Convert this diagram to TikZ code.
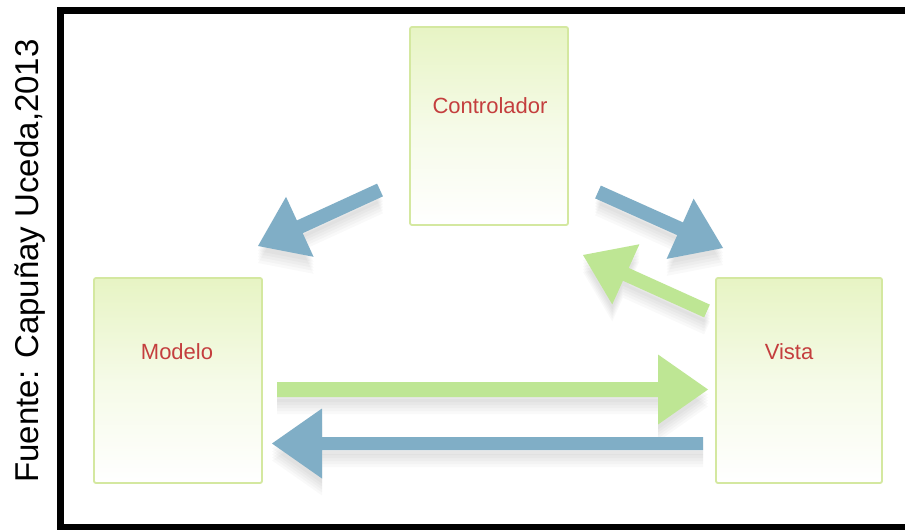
\documentclass[tikz,border=0pt]{standalone}
\usepackage{fontspec}
\setmainfont{Liberation Sans}
\usetikzlibrary{calc}

\definecolor{boxline}{RGB}{212,232,160}
\definecolor{boxtop}{RGB}{231,244,196}
\definecolor{labelred}{RGB}{196,62,62}
\definecolor{arrowblue}{RGB}{128,174,198}
\definecolor{arrowgreen}{RGB}{190,230,148}

\tikzset{
  mvcbox/.style={draw=boxline, line width=1.8pt, rounded corners=2pt,
    top color=boxtop, bottom color=white, middle color=boxtop!40!white},
  mvclabel/.style={text=labelred, font=\fontsize{22}{24}\selectfont, inner sep=0pt},
}

% block arrow outline: tail, tip, shaft half width, head half width, head length
\newcommand\arrowoutline[5]{%
    ($(#1)!#3!90:(#2)$) --
    ($($(#2)!#5!(#1)$)!#3!-90:(#1)$) --
    ($($(#2)!#5!(#1)$)!#4!-90:(#1)$) --
    (#2) --
    ($($(#2)!#5!(#1)$)!#4!90:(#1)$) --
    ($($(#2)!#5!(#1)$)!#3!90:(#1)$) --
    ($(#1)!#3!-90:(#2)$) -- cycle%
}
% fat arrow with a faint stacked drop shadow beneath it
\newcommand\fatarrow[6]{%
  \foreach \dy in {5,8,11,14,17}{%
    \begin{scope}[transform canvas={yshift=-\dy pt}]
      \path[fill=black, fill opacity=0.022] \arrowoutline{#1}{#2}{#3}{#4}{#5};%
    \end{scope}%
  }%
  \path[fill=#6] \arrowoutline{#1}{#2}{#3}{#4}{#5};%
}

\begin{document}
\begin{tikzpicture}[x=1pt,y=-1pt]
  \useasboundingbox (0,0) rectangle (905,530);
  \fill[white] (0,0) rectangle (905,530);

  % source note, set sideways
  \node[rotate=90, font=\fontsize{33}{36}\selectfont, inner sep=0pt] (src) at (30,261)
    {Fuente: Capuñay Uceda,2013};

  % outer frame, running off the right and bottom edges
  \draw[line width=7pt] (60.5,10) rectangle (920,527);

  % the three components
  \node[mvcbox, minimum width=158pt, minimum height=198pt] (ctrl) at (489,126) {};
  \node[mvclabel] (ctrlt) at (490,106) {Controlador};
  \node[mvcbox, minimum width=168pt, minimum height=205pt] (mod) at (178,380.5) {};
  \node[mvclabel] (modt) at (177,352) {Modelo};
  \node[mvcbox, minimum width=166pt, minimum height=205pt] (vis) at (799,380.5) {};
  \node[mvclabel] (vist) at (789,352) {Vista};

  % arrow ends
  \coordinate (c2mA) at (380,190);  \coordinate (c2mB) at (258,246);
  \coordinate (c2vA) at (598,192);  \coordinate (c2vB) at (723,248);
  \coordinate (v2cA) at (707,311);  \coordinate (v2cB) at (583,255);
  \coordinate (m2vA) at (277,389.5);\coordinate (m2vB) at (708,389.5);
  \coordinate (v2mA) at (703,443.5);\coordinate (v2mB) at (272,443.5);

  \fatarrow{c2mA}{c2mB}{7pt}{33pt}{46pt}{arrowblue}
  \fatarrow{c2vA}{c2vB}{7pt}{33pt}{47pt}{arrowblue}
  \fatarrow{v2cA}{v2cB}{7pt}{33pt}{47pt}{arrowgreen}
  \fatarrow{m2vA}{m2vB}{7.5pt}{35pt}{50pt}{arrowgreen}
  \fatarrow{v2mA}{v2mB}{6.5pt}{35pt}{50pt}{arrowblue}
\end{tikzpicture}
\end{document}
